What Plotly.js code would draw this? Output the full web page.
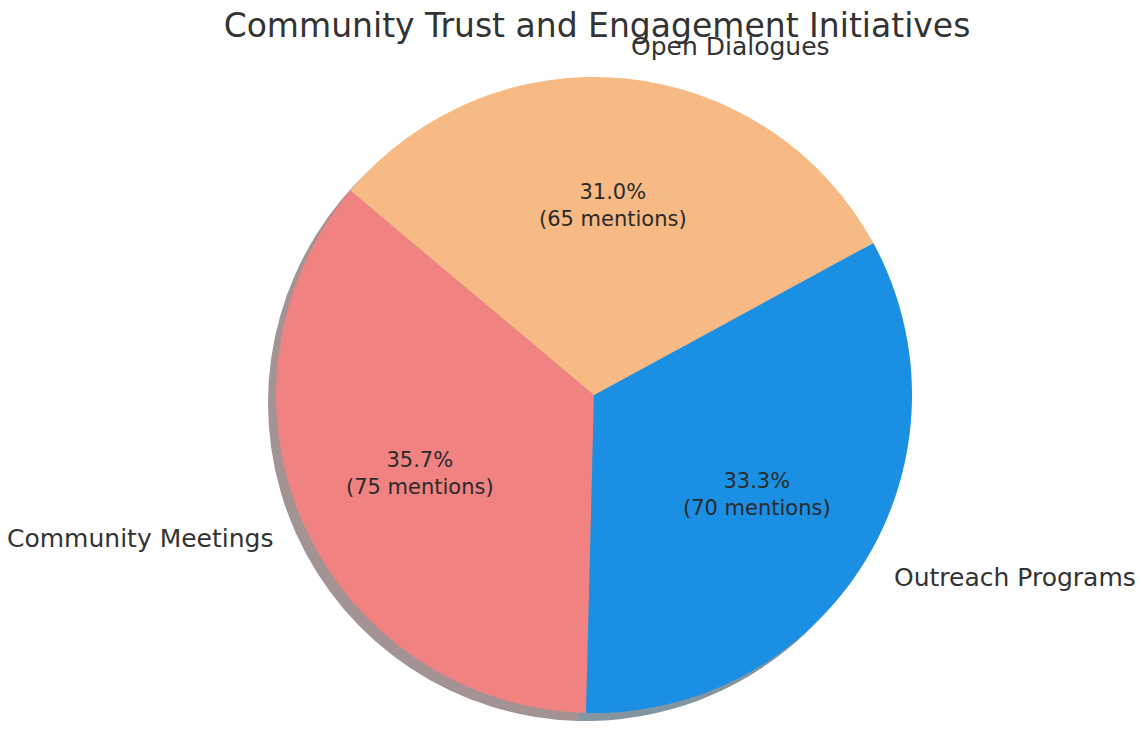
<!DOCTYPE html>
<html>
<head>
<meta charset="utf-8">
<script src="https://cdn.plot.ly/plotly-3.0.1.min.js"></script>
<style>html,body{margin:0;padding:0;background:#fff;}#chart{width:1142px;height:732px;}</style>
</head>
<body>
<div id="chart"></div>
<script>
// ---- data ----
const categories = ['Community Meetings', 'Outreach Programs', 'Open Dialogues'];
const mentions = [75, 70, 65];
const sliceColors = ['#F08282', '#1A8FE3', '#F7BA84'];
const chartTitle = 'Community Trust and Engagement Initiatives';

// ---- geometry (pixels in the 1142x732 figure) ----
const W = 1142, H = 732;
const cx = 594, cy = 395, R = 318;
const shadowDx = -8, shadowDy = 8;
const startAngle = 140;        // degrees, counterclockwise from 3 o'clock
const labelDist = 1.1, pctDist = 0.6;

function dom(cxp, cyp) {
  return {
    x: [(cxp - R) / W, (cxp + R) / W],
    y: [(H - cyp - R) / H, (H - cyp + R) / H]
  };
}

function shade(hex) {
  const r = parseInt(hex.slice(1,3),16), g = parseInt(hex.slice(3,5),16), b = parseInt(hex.slice(5,7),16);
  return `rgba(${Math.round(r*0.3)},${Math.round(g*0.3)},${Math.round(b*0.3)},0.5)`;
}

const total = mentions.reduce((a, b) => a + b, 0);
// Plotly (counterclockwise): first slice ends at the rotation angle, measured clockwise from 12 o'clock
const firstSpan = mentions[0] / total * 360;
const plotlyRotation = 90 - startAngle - firstSpan;

const shadowTrace = {
  type: 'pie', labels: categories, values: mentions, sort: false,
  direction: 'counterclockwise', rotation: plotlyRotation,
  marker: { colors: sliceColors.map(shade), line: { width: 0 } },
  textinfo: 'none', hoverinfo: 'skip', showlegend: false,
  domain: dom(cx + shadowDx, cy + shadowDy)
};
const mainTrace = {
  type: 'pie', labels: categories, values: mentions, sort: false,
  direction: 'counterclockwise', rotation: plotlyRotation,
  marker: { colors: sliceColors, line: { width: 0 } },
  textinfo: 'none', hoverinfo: 'label+value+percent', showlegend: false,
  domain: dom(cx, cy)
};

// annotations computed from data (same rule as a standard pie layout)
const annotations = [];
let acc = startAngle;
mentions.forEach((v, i) => {
  const span = v / total * 360;
  const mid = (acc + span / 2) * Math.PI / 180;
  acc += span;
  const c = Math.cos(mid), s = Math.sin(mid);
  const lx = cx + labelDist * R * c, ly = cy - labelDist * R * s;
  annotations.push({
    xref: 'paper', yref: 'paper', x: lx / W, y: 1 - ly / H,
    text: categories[i], showarrow: false,
    xanchor: c > 0 ? 'left' : 'right', yanchor: 'middle',
    font: { family: 'DejaVu Sans', size: 25, color: '#333333' }
  });
  const px = cx + pctDist * R * c, py = cy - pctDist * R * s;
  annotations.push({
    xref: 'paper', yref: 'paper', x: px / W, y: 1 - py / H,
    text: (v / total * 100).toFixed(1) + '%<br>(' + v + ' mentions)',
    showarrow: false, xanchor: 'center', yanchor: 'middle', align: 'center',
    font: { family: 'DejaVu Sans', size: 21, color: '#2a2a2a' }
  });
});

const layout = {
  width: W, height: H,
  margin: { l: 0, r: 0, t: 0, b: 0 },
  paper_bgcolor: '#ffffff',
  title: {
    text: chartTitle, x: 597 / W, xanchor: 'center', y: 1 - 25 / H, yanchor: 'middle',
    font: { family: 'DejaVu Sans', size: 33, color: '#333333' }
  },
  annotations: annotations,
  showlegend: false
};

Plotly.newPlot('chart', [shadowTrace, mainTrace], layout, { displayModeBar: false });
</script>
</body>
</html>
